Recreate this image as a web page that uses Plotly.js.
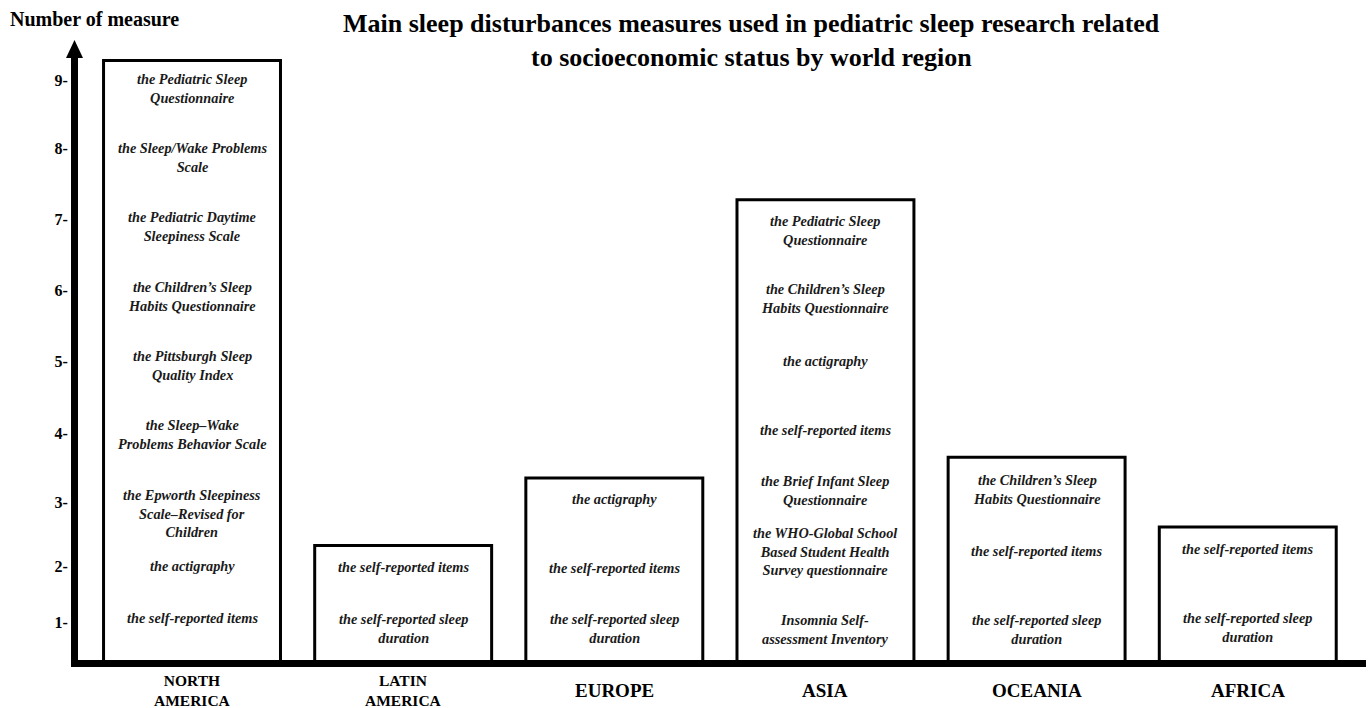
<!DOCTYPE html>
<html>
<head>
<meta charset="utf-8">
<script src="https://cdn.plot.ly/plotly-3.0.1.min.js"></script>
<style>html,body{margin:0;padding:0;background:#fff;}#chart{width:1370px;height:708px;}</style>
</head>
<body>
<div id="chart"></div>
<script>
// ---- data ----
const regions = ['NORTH<br>AMERICA', 'LATIN<br>AMERICA', 'EUROPE', 'ASIA', 'OCEANIA', 'AFRICA'];
const barHeights = [9.32, 2.28, 3.26, 7.30, 3.56, 2.55];

const yTickVals = [1.17, 1.97, 2.90, 3.91, 4.96, 5.99, 7.02, 8.04, 9.04];
const yTickText = ['1-', '2-', '3-', '4-', '5-', '6-', '7-', '8-', '9-'];

const naLabels = [
  'the Pediatric Sleep<br>Questionnaire',
  'the Sleep/Wake Problems<br>Scale',
  'the Pediatric Daytime<br>Sleepiness Scale',
  'the Children\u2019s Sleep<br>Habits Questionnaire',
  'the Pittsburgh Sleep<br>Quality Index',
  'the Sleep\u2013Wake<br>Problems Behavior Scale',
  'the Epworth Sleepiness<br>Scale\u2013Revised for<br>Children',
  'the actigraphy',
  'the self-reported items'
];
const naLabelPos = [8.92, 7.92, 6.91, 5.90, 4.89, 3.89, 2.74, 1.98, 1.23];

const laLabels = ['the self-reported items', 'the self-reported sleep<br>duration'];
const laLabelPos = [1.97, 1.08];

const euLabels = ['the actigraphy', 'the self-reported items', 'the self-reported sleep<br>duration'];
const euLabelPos = [2.96, 1.95, 1.08];

const asLabels = [
  'the Pediatric Sleep<br>Questionnaire',
  'the Children\u2019s Sleep<br>Habits Questionnaire',
  'the actigraphy',
  'the self-reported items',
  'the Brief Infant Sleep<br>Questionnaire',
  'the WHO-Global School<br>Based Student Health<br>Survey questionnaire',
  'Insomnia Self-<br>assessment Inventory'
];
const asLabelPos = [6.86, 5.86, 4.96, 3.96, 3.08, 2.20, 1.06];

const ocLabels = ['the Children\u2019s Sleep<br>Habits Questionnaire', 'the self-reported items', 'the self-reported sleep<br>duration'];
const ocLabelPos = [3.09, 2.20, 1.06];

const afLabels = ['the self-reported items', 'the self-reported sleep<br>duration'];
const afLabelPos = [2.23, 1.09];

const yAxisTitle = 'Number of measure';
const titleLines = [
  'Main sleep disturbances measures used in pediatric sleep research related',
  'to socioeconomic status by world region'
];

// ---- build ----
const serif = '"Liberation Serif", "Times New Roman", serif';
const labelGroups = [
  [regions[0], naLabels, naLabelPos],
  [regions[1], laLabels, laLabelPos],
  [regions[2], euLabels, euLabelPos],
  [regions[3], asLabels, asLabelPos],
  [regions[4], ocLabels, ocLabelPos],
  [regions[5], afLabels, afLabelPos]
];

const annotations = [];
labelGroups.forEach(([reg, texts, pos]) => {
  texts.forEach((t, i) => {
    annotations.push({
      x: reg, y: pos[i], xref: 'x', yref: 'y',
      text: t, showarrow: false,
      xanchor: 'center', yanchor: 'middle', align: 'center',
      font: {family: serif, size: 14.3, color: '#1a1a1a', style: 'italic', weight: 'bold'}
    });
  });
});

// category labels under the axis
regions.forEach(r => {
  const twoLine = r.indexOf('<br>') >= 0;
  annotations.push({
    x: r, xref: 'x', yref: 'paper', y: -0.0497,
    text: '<b>' + r + '</b>', showarrow: false,
    xanchor: 'center', yanchor: 'middle', align: 'center',
    font: {family: serif, size: twoLine ? 15.5 : 19, color: '#000'}
  });
});

// y-axis caption
annotations.push({
  xref: 'paper', yref: 'paper', x: -0.0544, y: 1.0613,
  xanchor: 'left', yanchor: 'middle', showarrow: false,
  text: '<b>' + yAxisTitle + '</b>',
  font: {family: serif, size: 20, color: '#000'}
});

// title lines
const titleY = [1.053, 0.9983];
titleLines.forEach((t, i) => {
  annotations.push({
    xref: 'paper', yref: 'paper', x: 0.523, y: titleY[i],
    xanchor: 'center', yanchor: 'middle', showarrow: false,
    text: '<b>' + t + '</b>',
    font: {family: serif, size: 26, color: '#000'}
  });
});

const trace = {
  type: 'bar',
  x: regions,
  y: barHeights,
  width: 0.838,
  marker: {color: '#ffffff', line: {color: '#000000', width: 3}},
  hoverinfo: 'skip'
};

const layout = {
  width: 1370, height: 708,
  margin: {l: 78, r: 4, t: 56, b: 48},
  paper_bgcolor: '#fff', plot_bgcolor: '#fff',
  showlegend: false,
  hovermode: false,
  xaxis: {
    type: 'category',
    range: [-0.54, 5.56],
    showline: true, linewidth: 7, linecolor: '#000',
    showgrid: false, zeroline: false, ticks: '',
    showticklabels: false,
    fixedrange: true
  },
  yaxis: {
    range: [0.618, 9.387],
    tickmode: 'array', tickvals: yTickVals, ticktext: yTickText,
    showline: true, linewidth: 7, linecolor: '#000',
    showgrid: false, zeroline: false, ticks: '',
    tickfont: {family: serif, size: 16, color: '#000', weight: 'bold'},
    fixedrange: true
  },
  shapes: [{
    type: 'path', xref: 'paper', yref: 'paper',
    xsizemode: 'pixel', ysizemode: 'pixel', xanchor: 0, yanchor: 1,
    path: 'M -12,-2 L 5,-2 L -3.5,16 Z',
    fillcolor: '#000', line: {width: 0}
  }],
  annotations: annotations
};

Plotly.newPlot('chart', [trace], layout, {displayModeBar: false, staticPlot: true});
</script>
</body>
</html>
